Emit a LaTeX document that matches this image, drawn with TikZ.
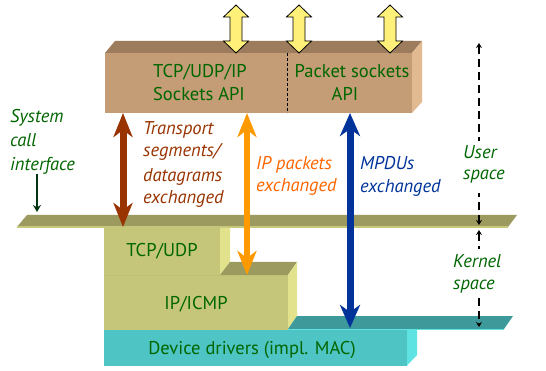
\documentclass[tikz,border=0pt]{standalone}
\usepackage{fontspec}
\setmainfont{PT Sans}
\usetikzlibrary{arrows.meta}
\definecolor{sockfront}{HTML}{C49C76}
\definecolor{socktop}{HTML}{9C7C5C}
\definecolor{sockside}{HTML}{E2BA92}
\definecolor{olive}{HTML}{9C9A5E}
\definecolor{olivelight}{HTML}{C8C87C}
\definecolor{tcpfront}{HTML}{C6C67A}
\definecolor{tcpside}{HTML}{E2E28C}
\definecolor{tealshelf}{HTML}{3E9A9A}
\definecolor{tealfront}{HTML}{4EC4C4}
\definecolor{tealside}{HTML}{5EE2E2}
\definecolor{txtgreen}{HTML}{006600}
\definecolor{darkgreen}{HTML}{003311}
\definecolor{brownc}{HTML}{993300}
\definecolor{orangec}{HTML}{FF9900}
\definecolor{orangetxt}{HTML}{FF6600}
\definecolor{bluec}{HTML}{003399}
\definecolor{yellowc}{HTML}{FFF07A}
\begin{document}
\begin{tikzpicture}[x=1pt,y=-1pt,
  face/.style={draw=none,inner sep=0pt,outer sep=0pt},
  boxtxt/.style={text=txtgreen,font=\fontsize{18.5}{20}\selectfont,inner sep=0pt,anchor=base},
  lbl/.style={font=\fontsize{18.5}{20}\selectfont\itshape,inner sep=0pt,anchor=base west},
  bigarrow/.style={line width=7pt},
  yarrow/.style={fill=yellowc,draw=black,line width=0.8pt,line join=miter},
  spacearrow/.style={line width=1.8pt,dash pattern=on 8pt off 5pt,
     {Stealth[length=5pt,width=6pt]}-{Stealth[length=5pt,width=6pt]}}
]
\path[use as bounding box] (0,0) rectangle (546,371);
\fill[white] (0,0) rectangle (546,371);

% ---------- sockets API box ----------
\node[face,fill=sockfront,minimum width=307pt,minimum height=60pt] (sock) at (258.5,83) {};
\fill[socktop] (sock.north west) -- ++(10,-12) -- ++(307,0) -- (sock.north east) -- cycle;
\fill[sockside] (sock.north east) -- ++(10,-12) -- ++(0,61) -- (sock.south east) -- cycle;
\draw[black,line width=0.7pt,dash pattern=on 3pt off 2pt] (287,53) -- (287,113);
\node[boxtxt] (t1) at (200,78) {TCP/UDP/IP};
\node[boxtxt] (t2) at (199,101) {Sockets API};
\node[boxtxt] (t3) at (352,78) {Packet sockets};
\node[boxtxt] (t4) at (345,101) {API};

% ---------- system call shelf ----------
\fill[olive] (17,227) -- (27,215) -- (517,215) -- (508,227) -- cycle;
\draw[olivelight,line width=1.2pt] (17,227) -- (508,227);

% ---------- TCP/UDP ----------
\node[face,fill=tcpfront,minimum width=116pt,minimum height=48pt] (tcp) at (162,251.5) {};
\fill[tcpside] (220,228) -- (230,228) -- (230,262) -- (220,275) -- cycle;
\node[boxtxt] (t5) at (162,257) {TCP/UDP};

% ---------- IP/ICMP ----------
\node[face,fill=tcpfront,minimum width=184pt,minimum height=55pt] (ip) at (196,302.5) {};
\fill[olive] (220,275) -- (230,262) -- (297,262) -- (288,275) -- cycle;
\fill[tcpside] (288,275) -- (297,262) -- (297,316) -- (288,329) -- cycle;
\draw[olivelight!80!olive,line width=0.6pt] (104,275) -- (288,275);
\node[boxtxt] (t6) at (196,309) {IP/ICMP};

% ---------- teal shelf + device drivers ----------
\fill[tealshelf] (288,329) -- (297,316) -- (513,316) -- (504,329) -- cycle;
\node[face,fill=tealfront,minimum width=303pt,minimum height=36pt] (dev) at (255.5,347.5) {};
\fill[tealside] (407,329.5) -- (417,329.5) -- (417,355) -- (407,365.5) -- cycle;
\draw[tealside,line width=0.8pt] (288,329.5) -- (504,329.5);
\node[boxtxt] (t7) at (252,354) {Device drivers (impl. MAC)};

% ---------- yellow arrows ----------
\foreach \c in {236,299,390}{
  \draw[yarrow] (\c,5) -- (\c+12.5,17) -- (\c+6,17) -- (\c+6,41) -- (\c+12.5,41)
     -- (\c,53) -- (\c-12.5,41) -- (\c-6,41) -- (\c-6,17) -- (\c-12.5,17) -- cycle;
}

% ---------- exchange arrows ----------
\coordinate (bTop) at (123,113);
\coordinate (bBot) at (123,227);
\draw[bigarrow,brownc,{Stealth[length=24pt,width=19pt,inset=7pt]}-{Stealth[length=24pt,width=19pt,inset=7pt]}] (bTop) -- (bBot);
\coordinate (oTop) at (247,113);
\coordinate (oBot) at (247,275);
\draw[orangec,line width=6pt,{Stealth[length=24pt,width=19pt,inset=7pt]}-{Stealth[length=24pt,width=19pt,inset=7pt]}] (oTop) -- (oBot);
\coordinate (mTop) at (350,113);
\coordinate (mBot) at (350,328);
\draw[bigarrow,bluec,{Stealth[length=23pt,width=20pt,inset=7pt]}-{Stealth[length=23pt,width=20pt,inset=7pt]}] (mTop) -- (mBot);

% ---------- labels ----------
\node[lbl,text=txtgreen] (s1) at (10,123) {System};
\node[lbl,text=txtgreen] (s2) at (10,147) {call};
\node[lbl,text=txtgreen] (s3) at (10,171) {interface};
\coordinate (sysTop) at (37,174);
\coordinate (sysBot) at (37,212);
\draw[darkgreen,line width=2.5pt,-{Stealth[length=7pt,width=8pt]}] (sysTop) -- (sysBot);

\node[lbl,text=brownc] (b1) at (143,135) {Transport};
\node[lbl,text=brownc] (b2) at (143,157) {segments/};
\node[lbl,text=brownc] (b3) at (143,182) {datagrams};
\node[lbl,text=brownc] (b4) at (143,204) {exchanged};

\node[lbl,text=orangetxt] (o1) at (256,170) {IP packets};
\node[lbl,text=orangetxt] (o2) at (256,192) {exchanged};

\node[lbl,text=bluec] (m1) at (360,170) {MPDUs};
\node[lbl,text=bluec] (m2) at (360,193) {exchanged};

% ---------- space arrows ----------
\coordinate (uTop) at (479,43);
\coordinate (uBot) at (479,225);
\coordinate (kTop) at (479,230);
\coordinate (kBot) at (479,327);
\draw[black,spacearrow] (uTop) -- (uBot);
\draw[black,spacearrow] (kTop) -- (kBot);
\fill[white] (468,141) rectangle (492,193);
\fill[white] (468,249) rectangle (492,297);

\node[lbl,text=txtgreen] (u1) at (463,159) {User};
\node[lbl,text=txtgreen] (u2) at (463,180) {space};
\node[lbl,text=txtgreen] (k1) at (453,268) {Kernel};
\node[lbl,text=txtgreen] (k2) at (453,290) {space};
\end{tikzpicture}
\end{document}
